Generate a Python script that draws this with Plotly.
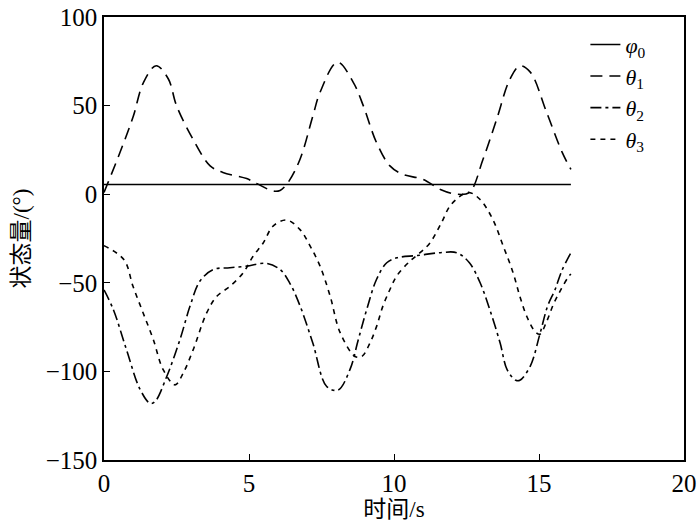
import plotly.graph_objects as go

# state values (time in s, angle in degrees)
phi0_t = [0, 16.1]
phi0_y = [5.5, 5.5]

theta1_t = [0, 0.55, 1.01, 1.36, 1.8, 2.22, 2.5, 3.07, 3.66, 4.1, 4.92, 5.26, 5.83, 6.07, 6.35,
            6.76, 7.2, 7.45, 8.05, 8.6, 8.94, 9.4, 9.86, 10.3, 11.0, 11.6, 12.16, 12.6, 13.07,
            13.54, 14.0, 14.34, 14.7, 15.26, 15.8, 16.1]
theta1_y = [1, 23.5, 44, 63, 72.5, 65, 50, 31, 16, 12.3, 8.8, 6.1, 1.8, 2.1, 6.7,
            19.7, 44, 57.5, 74.5, 63, 50, 29, 16, 11.2, 8.4, 2.7, 0, 1, 19.7,
            42.3, 65, 72.4, 68.9, 46.3, 23.6, 14]

theta2_t = [0, 0.32, 0.78, 1.24, 1.59, 1.76, 2.16, 2.62, 2.97, 3.31, 3.77, 4.34, 4.92, 5.6,
            6.07, 6.4, 6.76, 7.2, 7.68, 8.07, 8.48, 8.77, 9.06, 9.4, 9.75, 10.1, 10.8, 11.6,
            12.16, 12.6, 12.97, 13.3, 13.66, 13.9, 14.2, 14.34, 14.7, 15.03, 15.3, 15.55,
            15.78, 16.1]
theta2_y = [-54, -65, -88, -110, -118, -117, -103, -82, -63, -49, -42.5, -41.5, -40.6, -39,
            -42.5, -50, -63, -84, -108.5, -110.5, -99, -82, -65, -48, -38.7, -35.9, -34.6, -33,
            -33, -38.7, -50, -65, -84, -99, -105, -105, -97, -79, -63, -54,
            -43.5, -33]

theta3_t = [0, 0.69, 1.0, 1.35, 1.7, 2.04, 2.45, 2.73, 3.07, 3.54, 3.89, 4.34, 4.8, 5.14,
            5.49, 5.83, 6.3, 6.76, 7.1, 7.45, 7.8, 8.14, 8.66, 8.89, 9.17, 9.4, 9.62, 9.86,
            10.1, 10.55, 10.9, 11.24, 11.64, 11.93, 12.38, 12.6, 12.97, 13.4, 13.76, 14.1,
            14.34, 14.58, 14.86, 15.03, 15.26, 15.5, 15.75, 16.0, 16.1]
theta3_y = [-29, -37, -52, -67, -82, -99, -107.6, -101, -88, -67, -57.6, -52, -44.4, -35,
            -27.5, -18, -14.6, -20, -29, -40.6, -57.6, -78, -91.6, -91.6, -84, -74.6, -63, -53.8,
            -46, -37.8, -33, -27.5, -16, -6.7, 0, 1, -3, -14, -29, -44,
            -57.6, -69, -77.4, -79, -72, -62, -54, -47, -45]

x_ticks = [0, 5, 10, 15, 20]
y_ticks = [-150, -100, -50, 0, 50, 100]

serif = "Liberation Serif"
cjk = "Liberation Serif, Noto Sans CJK SC"

fig = go.Figure()
fig.add_trace(go.Scatter(x=phi0_t, y=phi0_y, mode='lines', name='<i>φ</i><sub>0</sub>',
                         line=dict(color='black', width=1.6)))
fig.add_trace(go.Scatter(x=theta1_t, y=theta1_y, mode='lines', name='<i>θ</i><sub>1</sub>',
                         line=dict(color='black', width=1.6, dash='12px,7px', shape='spline')))
fig.add_trace(go.Scatter(x=theta2_t, y=theta2_y, mode='lines', name='<i>θ</i><sub>2</sub>',
                         line=dict(color='black', width=1.6, dash='11px,4px,3px,4px', shape='spline')))
fig.add_trace(go.Scatter(x=theta3_t, y=theta3_y, mode='lines', name='<i>θ</i><sub>3</sub>',
                         line=dict(color='black', width=1.6, dash='5px,5px', shape='spline')))

axis_common = dict(showgrid=False, zeroline=False, showline=True, linecolor='black', linewidth=1.5,
                   mirror=True, ticks='inside', ticklen=6, tickcolor='black', tickwidth=1.2,
                   automargin=False,
                   tickfont=dict(family=serif, size=25, color='black'))

fig.update_xaxes(range=[0, 20], tickvals=x_ticks,
                 title=dict(text='时间/s', font=dict(family=cjk, size=23, color='black'), standoff=2),
                 **axis_common)
fig.update_yaxes(range=[-150, 100], tickvals=y_ticks,
                 ticktext=[str(v).replace('-', '\u2212') for v in y_ticks],
                 title=dict(text='状态量/(°)', font=dict(family=cjk, size=23, color='black'), standoff=10),
                 **axis_common)

fig.update_layout(
    width=700, height=531,
    margin=dict(l=104, r=16, t=17, b=71),
    paper_bgcolor='white', plot_bgcolor='white',
    showlegend=True,
    legend=dict(x=0.83, y=0.985, xanchor='left', yanchor='top', bgcolor='rgba(0,0,0,0)',
                font=dict(family=serif, size=22, color='black'), tracegroupgap=0),
)

# drop the page's default body margin so the figure sits at the window's corner
fig.write_html("out.html", config={'displayModeBar': False},
               post_script="document.body.style.margin='0';")
